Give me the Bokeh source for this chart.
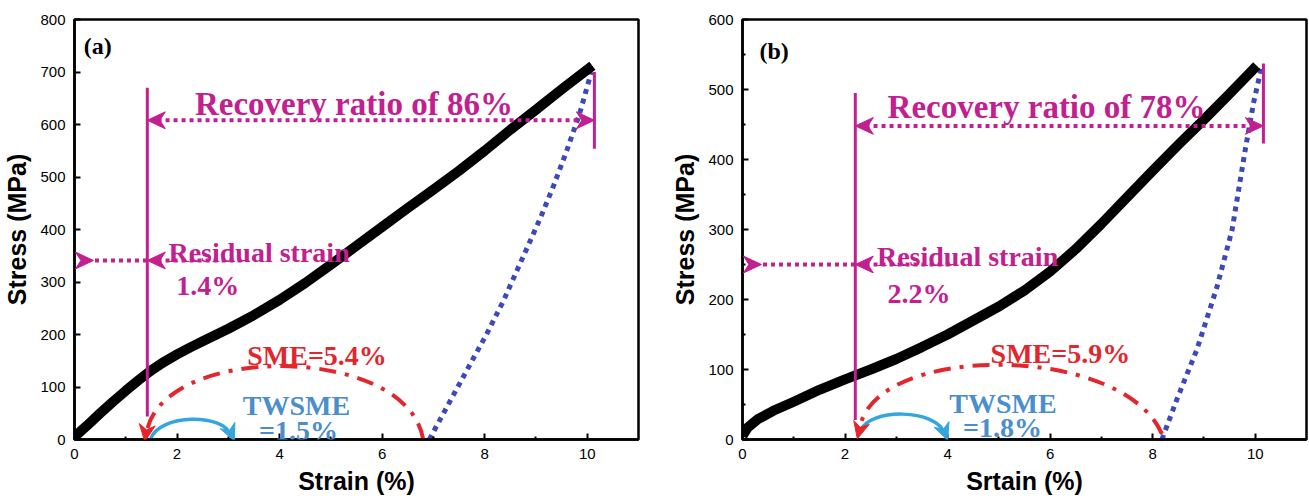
import math
from bokeh.plotting import figure
from bokeh.layouts import row
from bokeh.models import Range1d, FixedTicker, Label, PolyAnnotation
from bokeh.embed import file_html
from bokeh.resources import INLINE

# ---------------- data ----------------
# panel (a)
load_strain_a = [0.0, 0.25, 0.5, 0.75, 1.0, 1.25, 1.5, 1.75, 2.0, 2.25, 2.5, 2.75, 3.0, 3.5, 4.0,
                 4.5, 5.0, 5.5, 6.0, 6.5, 7.0, 7.5, 8.0, 8.5, 9.0, 9.5, 10.1]
load_stress_a = [5, 27, 50, 72, 93, 113, 132, 148, 162, 175, 187, 199, 211, 237, 266,
                 298, 333, 369, 405, 441, 476, 512, 550, 590, 628, 667, 712]
unload_strain_a = [6.92, 7.33, 7.72, 8.04, 8.37, 8.63, 8.85, 9.1, 9.35, 9.6, 9.85, 10.08]
unload_stress_a = [0, 74, 144, 201, 265, 322, 370, 425, 485, 550, 620, 700]
x_ticks = [0, 2, 4, 6, 8, 10]
x_minor = [1, 3, 5, 7, 9]
y_ticks_a = [0, 100, 200, 300, 400, 500, 600, 700, 800]
y_ticks_b = [0, 100, 200, 300, 400, 500, 600]
y_minor_b = [50, 150, 250, 350, 450, 550]

# panel (b)
load_strain_b = [0.0, 0.1, 0.3, 0.6, 1.0, 1.5, 2.0, 2.5, 3.0, 3.5, 4.0, 4.5, 5.0, 5.5, 6.0,
                 6.5, 7.0, 7.5, 8.0, 8.5, 9.0, 9.5, 10.03]
load_stress_b = [5, 17, 29, 41, 54, 71, 86, 100, 115, 132, 150, 170, 190, 213, 240,
                 272, 308, 346, 384, 421, 457, 494, 534]
unload_strain_b = [8.18, 8.47, 8.86, 9.25, 9.55, 9.81, 9.97, 10.13]
unload_stress_b = [0, 57, 128, 217, 300, 416, 482, 534]

MAG = "#C2208F"
RED = "#E3262B"
BLUE_T = "#4A8ECB"
BLUE_A = "#35A6DD"
DOT_BLUE = "#3C49B8"
SERIF = "Liberation Serif"
SANS = "Liberation Sans"

cfg_a = dict(
    tag="(a)", xlabel="Strain (%)", ymax=800, yt=y_ticks_a, ym=[],
    w=660, bl=74, br=22, bt=19, bb=61,
    ls=load_strain_a, lst=load_stress_a, us=unload_strain_a, ust=unload_stress_a,
    tag_xy=(0.18, 750),
    rec_txt="Recovery ratio of 86%", rec_xy=(5.45, 640), rec_y=608, res_x=1.42, end_x=10.14,
    vline=(44, 670), rvline=(554, 700),
    res_y=341, res_right=3.3, res_txt_xy=(3.60, 357), res_val="1.4%", res_val_xy=(2.60, 293),
    sme_txt="SME=5.4%", sme_xy=(4.73, 160),
    tw_xy=(4.33, 65), tw_val="=1.5%", tw_val_xy=(4.37, 17),
    red_bz=(6.8, 0, 1.40, 8, 6.5, 185, 1.6, 185), red_head=(1.43, 35, 1.37, -4),
    blue_bz=(1.48, 0, 3.04, 8, 1.65, 50, 2.93, 50), blue_head=(2.97, 30, 3.12, -3),
)
cfg_b = dict(
    tag="(b)", xlabel="Srtain (%)", ymax=600, yt=y_ticks_b, ym=y_minor_b,
    w=649, bl=82, br=3, bt=17, bb=60,
    ls=load_strain_b, lst=load_stress_b, us=unload_strain_b, ust=unload_stress_b,
    tag_xy=(0.33, 555),
    rec_txt="Recovery ratio of 78%", rec_xy=(5.93, 475), rec_y=448, res_x=2.2, end_x=10.16,
    vline=(28, 495), rvline=(423, 537),
    res_y=250, res_right=4.05, res_txt_xy=(4.39, 262), res_val="2.2%", res_val_xy=(3.44, 209),
    sme_txt="SME=5.9%", sme_xy=(6.2, 123),
    tw_xy=(5.08, 52), tw_val="=1.8%", tw_val_xy=(5.07, 17),
    red_bz=(8.18, 8, 2.28, 12, 7.4, 140, 2.45, 138), red_head=(2.34, 30, 2.24, 1),
    blue_bz=(2.3, 12, 3.94, 8, 2.45, 45, 3.8, 45), blue_head=(3.88, 22, 4.0, -1),
)


def label(p, x, y, text, color, size, align="center", font=SERIF):
    p.add_layout(Label(x=x, y=y, text=text, text_color=color, text_font=font,
                       text_font_style="bold", text_font_size=size,
                       text_align=align, text_baseline="alphabetic"))


def vee(p, frm, tip, size, color, sx, sy):
    """Notched (stealth) arrow head drawn as a polygon annotation."""
    xf, yf = frm
    xt, yt = tip
    dx, dy = (xt - xf) * sx, (yt - yf) * sy
    L = math.hypot(dx, dy)
    ux, uy = dx / L, dy / L
    nx, ny = -uy, ux
    w = 0.47 * size
    pts = [(0, 0), (-size * ux + w * nx, -size * uy + w * ny),
           (-0.7 * size * ux, -0.7 * size * uy),
           (-size * ux - w * nx, -size * uy - w * ny)]
    xs = [xt + a / sx for a, b in pts]
    ys = [yt + b / sy for a, b in pts]
    p.add_layout(PolyAnnotation(xs=xs, ys=ys, fill_color=color, fill_alpha=1,
                                line_color=color, line_alpha=1, line_width=1))


def panel(c):
    p = figure(width=c["w"], height=500, x_range=Range1d(0, 11), y_range=Range1d(0, c["ymax"]),
               output_backend="svg", toolbar_location=None,
               min_border_left=c["bl"], min_border_right=c["br"],
               min_border_top=c["bt"], min_border_bottom=c["bb"])
    fw = c["w"] - c["bl"] - c["br"]
    fh = 500 - c["bt"] - c["bb"]
    sx, sy = fw / 11.0, fh / float(c["ymax"])
    p.background_fill_color = "white"
    p.border_fill_color = "white"
    p.grid.visible = False
    p.outline_line_color = "black"
    p.outline_line_width = 2.5
    p.xaxis.ticker = FixedTicker(ticks=x_ticks, minor_ticks=x_minor)
    p.yaxis.ticker = FixedTicker(ticks=c["yt"], minor_ticks=c["ym"])
    for ax in (p.xaxis[0], p.yaxis[0]):
        ax.axis_line_width = 2.5
        ax.major_tick_in = 6
        ax.major_tick_out = 0
        ax.minor_tick_in = 3
        ax.minor_tick_out = 0
        ax.major_tick_line_width = 2
        ax.minor_tick_line_width = 2
        ax.major_label_text_font = SANS
        ax.major_label_text_font_size = "15px"
        ax.major_label_text_color = "black"
        ax.axis_label_text_font = SANS
        ax.axis_label_text_font_style = "bold"
        ax.axis_label_text_font_size = "25px"
        ax.axis_label_text_color = "black"
    p.xaxis.axis_label = c["xlabel"]
    p.yaxis.axis_label = "Stress (MPa)"
    p.xaxis.major_label_standoff = 9
    p.xaxis.axis_label_standoff = 5
    p.yaxis.major_label_standoff = 9
    p.yaxis.axis_label_standoff = 6

    # curves
    p.line(c["us"], c["ust"], line_color=DOT_BLUE, line_width=5, line_dash="5 5")
    p.line(c["ls"], c["lst"], line_color="black", line_width=10, line_join="round")

    # SME arc (red dash-dot) and TWSME arc (blue)
    x0, y0, x1, y1, cx0, cy0, cx1, cy1 = c["red_bz"]
    p.bezier(x0=[x0], y0=[y0], x1=[x1], y1=[y1], cx0=[cx0], cy0=[cy0], cx1=[cx1], cy1=[cy1],
             line_color=RED, line_width=4, line_dash="17 9 4 9")
    xs, ys, xe, ye = c["red_head"]
    vee(p, (xs, ys), (xe, ye), 17, RED, sx, sy)
    x0, y0, x1, y1, cx0, cy0, cx1, cy1 = c["blue_bz"]
    p.bezier(x0=[x0], y0=[y0], x1=[x1], y1=[y1], cx0=[cx0], cy0=[cy0], cx1=[cx1], cy1=[cy1],
             line_color=BLUE_A, line_width=3.5)
    xs, ys, xe, ye = c["blue_head"]
    vee(p, (xs, ys), (xe, ye), 17, BLUE_A, sx, sy)

    # magenta guides
    rx = c["res_x"]
    ex = c["end_x"]
    p.segment(x0=[rx], y0=[c["vline"][0]], x1=[rx], y1=[c["vline"][1]], line_color=MAG, line_width=3)
    p.segment(x0=[ex], y0=[c["rvline"][0]], x1=[ex], y1=[c["rvline"][1]], line_color=MAG, line_width=3)
    ry2 = c["rec_y"]
    p.segment(x0=[rx + 0.2], y0=[ry2], x1=[ex - 0.2], y1=[ry2], line_color=MAG, line_width=4,
              line_dash="4 4")
    vee(p, (ex, ry2), (rx, ry2), 18, MAG, sx, sy)
    vee(p, (rx, ry2), (ex, ry2), 18, MAG, sx, sy)

    ry = c["res_y"]
    vee(p, (-1.0, ry), (0.37, ry), 18, MAG, sx, sy)
    p.segment(x0=[0.4], y0=[ry], x1=[rx], y1=[ry], line_color=MAG, line_width=4, line_dash="4 4")
    p.segment(x0=[rx + 0.2], y0=[ry], x1=[c["res_right"]], y1=[ry], line_color=MAG, line_width=4,
              line_dash="4 4")
    vee(p, (c["res_right"], ry), (rx, ry), 18, MAG, sx, sy)

    # texts
    label(p, *c["tag_xy"], c["tag"], "black", "24px", align="left")
    label(p, *c["rec_xy"], c["rec_txt"], MAG, "33px")
    label(p, *c["res_txt_xy"], "Residual strain", MAG, "28px")
    label(p, *c["res_val_xy"], c["res_val"], MAG, "28px")
    label(p, *c["sme_xy"], c["sme_txt"], RED, "28px")
    label(p, *c["tw_xy"], "TWSME", BLUE_T, "28px")
    label(p, *c["tw_val_xy"], c["tw_val"], BLUE_T, "28px")
    return p


pa = panel(cfg_a)
pb = panel(cfg_b)
layout = row(pa, pb, spacing=0)
open("out.html", "w").write(file_html(layout, INLINE))
